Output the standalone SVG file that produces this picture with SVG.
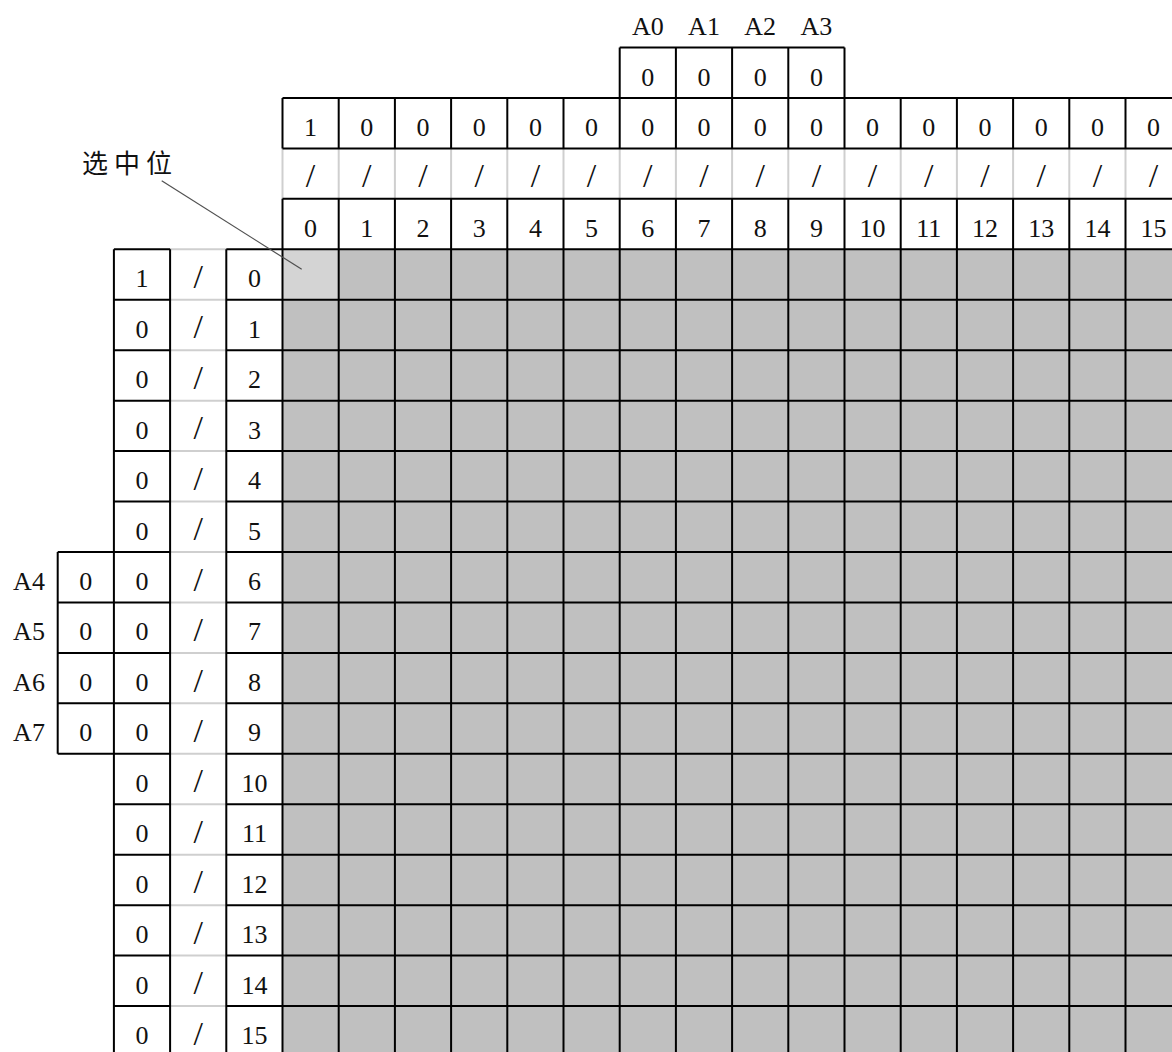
<svg xmlns="http://www.w3.org/2000/svg" width="1172" height="1052" viewBox="0 0 1172 1052">
<style>
.t{font-family:"Liberation Serif","DejaVu Serif",serif;font-size:26px;fill:#111;text-anchor:middle}
.s{font-size:34px}
.b{stroke:#000;stroke-width:2;fill:none}
.g{stroke:#cfcfcf;stroke-width:2;fill:none}
.cjk{font-family:"Noto Sans CJK SC","Noto Sans",sans-serif;font-size:26px;fill:#111;letter-spacing:6px}
</style>
<rect x="0" y="0" width="1172" height="1052" fill="#fff"/>
<g id="grid">
<rect x="282.5" y="249.3" width="890" height="803" fill="#c0c0c0"/>
<rect id="selected-cell" x="282.5" y="249.3" width="56.2" height="50.45" fill="#d4d4d4"/>
</g>
<g id="gray-lines">
<path class="g" d="M282.5 148.4V198.85M338.7 148.4V198.85M394.9 148.4V198.85M451.1 148.4V198.85M507.3 148.4V198.85M563.5 148.4V198.85M619.7 148.4V198.85M675.9 148.4V198.85M732.1 148.4V198.85M788.3 148.4V198.85M844.5 148.4V198.85M900.7 148.4V198.85M956.9 148.4V198.85M1013.1 148.4V198.85M1069.3 148.4V198.85M1125.5 148.4V198.85"/>
<path class="g" d="M170.1 249.3H226.3M170.1 299.75H226.3M170.1 350.2H226.3M170.1 400.65H226.3M170.1 451.1H226.3M170.1 501.55H226.3M170.1 552H226.3M170.1 602.45H226.3M170.1 652.9H226.3M170.1 703.35H226.3M170.1 753.8H226.3M170.1 804.25H226.3M170.1 854.7H226.3M170.1 905.15H226.3M170.1 955.6H226.3M170.1 1006.05H226.3"/>
</g>
<g id="black-lines">
<path class="b" d="M619.7 47.5H844.5M282.5 97.95H1172M282.5 148.4H1172M282.5 198.85H1172"/>
<path class="b" d="M619.7 47.5V97.95M675.9 47.5V97.95M732.1 47.5V97.95M788.3 47.5V97.95M844.5 47.5V97.95"/>
<path class="b" d="M282.5 97.95V148.4M338.7 97.95V148.4M394.9 97.95V148.4M451.1 97.95V148.4M507.3 97.95V148.4M563.5 97.95V148.4M619.7 97.95V148.4M675.9 97.95V148.4M732.1 97.95V148.4M788.3 97.95V148.4M844.5 97.95V148.4M900.7 97.95V148.4M956.9 97.95V148.4M1013.1 97.95V148.4M1069.3 97.95V148.4M1125.5 97.95V148.4"/>
<path class="b" d="M282.5 198.85V1052M338.7 198.85V1052M394.9 198.85V1052M451.1 198.85V1052M507.3 198.85V1052M563.5 198.85V1052M619.7 198.85V1052M675.9 198.85V1052M732.1 198.85V1052M788.3 198.85V1052M844.5 198.85V1052M900.7 198.85V1052M956.9 198.85V1052M1013.1 198.85V1052M1069.3 198.85V1052M1125.5 198.85V1052"/>
<path class="b" d="M113.9 249.3V1052M170.1 249.3V1052M226.3 249.3V1052M57.7 552V753.8"/>
<path class="b" d="M113.9 249.3H170.1M226.3 249.3H1172M113.9 299.75H170.1M226.3 299.75H1172M113.9 350.2H170.1M226.3 350.2H1172M113.9 400.65H170.1M226.3 400.65H1172M113.9 451.1H170.1M226.3 451.1H1172M113.9 501.55H170.1M226.3 501.55H1172M57.7 552H170.1M226.3 552H1172M57.7 602.45H170.1M226.3 602.45H1172M57.7 652.9H170.1M226.3 652.9H1172M57.7 703.35H170.1M226.3 703.35H1172M57.7 753.8H170.1M226.3 753.8H1172M113.9 804.25H170.1M226.3 804.25H1172M113.9 854.7H170.1M226.3 854.7H1172M113.9 905.15H170.1M226.3 905.15H1172M113.9 955.6H170.1M226.3 955.6H1172M113.9 1006.05H170.1M226.3 1006.05H1172"/>
</g>
<g id="top-address-labels">
<text class="t" x="647.8" y="35">A0</text><text class="t" x="704" y="35">A1</text><text class="t" x="760.2" y="35">A2</text><text class="t" x="816.4" y="35">A3</text>
<text class="t" x="647.8" y="85.5">0</text><text class="t" x="704" y="85.5">0</text><text class="t" x="760.2" y="85.5">0</text><text class="t" x="816.4" y="85.5">0</text>
</g>
<g id="top-bits-row">
<text class="t" x="310.6" y="135.95">1</text><text class="t" x="366.8" y="135.95">0</text><text class="t" x="423" y="135.95">0</text><text class="t" x="479.2" y="135.95">0</text><text class="t" x="535.4" y="135.95">0</text><text class="t" x="591.6" y="135.95">0</text><text class="t" x="647.8" y="135.95">0</text><text class="t" x="704" y="135.95">0</text><text class="t" x="760.2" y="135.95">0</text><text class="t" x="816.4" y="135.95">0</text><text class="t" x="872.6" y="135.95">0</text><text class="t" x="928.8" y="135.95">0</text><text class="t" x="985" y="135.95">0</text><text class="t" x="1041.2" y="135.95">0</text><text class="t" x="1097.4" y="135.95">0</text><text class="t" x="1153.6" y="135.95">0</text>
</g>
<g id="top-slash-row">
<text class="t s" x="310.6" y="187">/</text><text class="t s" x="366.8" y="187">/</text><text class="t s" x="423" y="187">/</text><text class="t s" x="479.2" y="187">/</text><text class="t s" x="535.4" y="187">/</text><text class="t s" x="591.6" y="187">/</text><text class="t s" x="647.8" y="187">/</text><text class="t s" x="704" y="187">/</text><text class="t s" x="760.2" y="187">/</text><text class="t s" x="816.4" y="187">/</text><text class="t s" x="872.6" y="187">/</text><text class="t s" x="928.8" y="187">/</text><text class="t s" x="985" y="187">/</text><text class="t s" x="1041.2" y="187">/</text><text class="t s" x="1097.4" y="187">/</text><text class="t s" x="1153.6" y="187">/</text>
</g>
<g id="top-index-row">
<text class="t" x="310.6" y="236.85">0</text><text class="t" x="366.8" y="236.85">1</text><text class="t" x="423" y="236.85">2</text><text class="t" x="479.2" y="236.85">3</text><text class="t" x="535.4" y="236.85">4</text><text class="t" x="591.6" y="236.85">5</text><text class="t" x="647.8" y="236.85">6</text><text class="t" x="704" y="236.85">7</text><text class="t" x="760.2" y="236.85">8</text><text class="t" x="816.4" y="236.85">9</text><text class="t" x="872.6" y="236.85">10</text><text class="t" x="928.8" y="236.85">11</text><text class="t" x="985" y="236.85">12</text><text class="t" x="1041.2" y="236.85">13</text><text class="t" x="1097.4" y="236.85">14</text><text class="t" x="1153.6" y="236.85">15</text>
</g>
<g id="left-address-labels">
<text class="t" x="29" y="590">A4</text><text class="t" x="29" y="640.45">A5</text><text class="t" x="29" y="690.9">A6</text><text class="t" x="29" y="741.35">A7</text>
<text class="t" x="85.8" y="590">0</text><text class="t" x="85.8" y="640.45">0</text><text class="t" x="85.8" y="690.9">0</text><text class="t" x="85.8" y="741.35">0</text>
</g>
<g id="left-bits-column">
<text class="t" x="142" y="287.3">1</text><text class="t" x="142" y="337.75">0</text><text class="t" x="142" y="388.2">0</text><text class="t" x="142" y="438.65">0</text><text class="t" x="142" y="489.1">0</text><text class="t" x="142" y="539.55">0</text><text class="t" x="142" y="590">0</text><text class="t" x="142" y="640.45">0</text><text class="t" x="142" y="690.9">0</text><text class="t" x="142" y="741.35">0</text><text class="t" x="142" y="791.8">0</text><text class="t" x="142" y="842.25">0</text><text class="t" x="142" y="892.7">0</text><text class="t" x="142" y="943.15">0</text><text class="t" x="142" y="993.6">0</text><text class="t" x="142" y="1044.05">0</text>
</g>
<g id="left-slash-column">
<text class="t s" x="198.2" y="288">/</text><text class="t s" x="198.2" y="338.4">/</text><text class="t s" x="198.2" y="388.8">/</text><text class="t s" x="198.2" y="439.3">/</text><text class="t s" x="198.2" y="489.7">/</text><text class="t s" x="198.2" y="540.2">/</text><text class="t s" x="198.2" y="590.6">/</text><text class="t s" x="198.2" y="641.1">/</text><text class="t s" x="198.2" y="691.5">/</text><text class="t s" x="198.2" y="742">/</text><text class="t s" x="198.2" y="792.4">/</text><text class="t s" x="198.2" y="842.9">/</text><text class="t s" x="198.2" y="893.3">/</text><text class="t s" x="198.2" y="943.8">/</text><text class="t s" x="198.2" y="994.2">/</text><text class="t s" x="198.2" y="1044.7">/</text>
</g>
<g id="left-index-column">
<text class="t" x="254.4" y="287.3">0</text><text class="t" x="254.4" y="337.75">1</text><text class="t" x="254.4" y="388.2">2</text><text class="t" x="254.4" y="438.65">3</text><text class="t" x="254.4" y="489.1">4</text><text class="t" x="254.4" y="539.55">5</text><text class="t" x="254.4" y="590">6</text><text class="t" x="254.4" y="640.45">7</text><text class="t" x="254.4" y="690.9">8</text><text class="t" x="254.4" y="741.35">9</text><text class="t" x="254.4" y="791.8">10</text><text class="t" x="254.4" y="842.25">11</text><text class="t" x="254.4" y="892.7">12</text><text class="t" x="254.4" y="943.15">13</text><text class="t" x="254.4" y="993.6">14</text><text class="t" x="254.4" y="1044.05">15</text>
</g>
<g id="selected-label">
<text class="cjk" x="82" y="173">选中位</text>
</g>
<g id="connectors">
<line x1="161.7" y1="180.7" x2="301.7" y2="269.3" stroke="#505050" stroke-width="1.2"/>
</g>
</svg>
